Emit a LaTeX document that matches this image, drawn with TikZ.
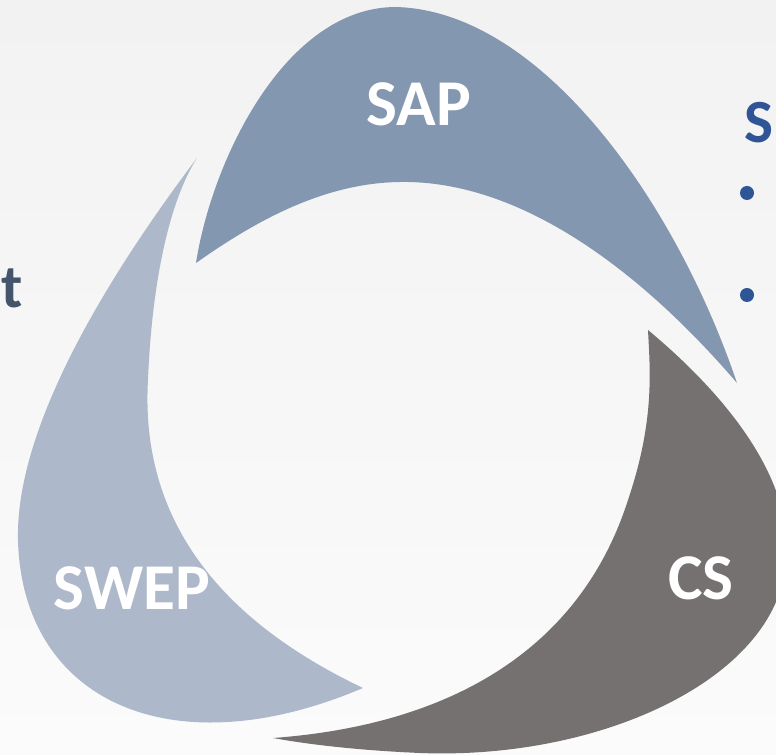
\documentclass[tikz,border=0pt]{standalone}
\usepackage{fontspec}
\setmainfont{Carlito}
\definecolor{sapc}{HTML}{8497B0}
\definecolor{swepc}{HTML}{ADB9CA}
\definecolor{csc}{HTML}{767171}
\definecolor{bluet}{HTML}{2F5597}
\definecolor{darkt}{HTML}{44546A}
\definecolor{bgtop}{HTML}{F2F2F2}
\definecolor{bgbot}{HTML}{FBFBFB}
\tikzset{
  blade label/.style={text=white, font=\fontsize{49}{58}\selectfont\bfseries, anchor=base, inner sep=0pt},
  side text/.style={font=\fontsize{46}{54}\selectfont\bfseries, inner sep=0pt},
  bullet dot/.style={circle, fill=bluet, minimum size=10.5pt, inner sep=0pt}
}
\begin{document}
\begin{tikzpicture}[x=0.75pt, y=-0.75pt]
\useasboundingbox (0,0) rectangle (776,755);
\shade[top color=bgtop, bottom color=bgbot] (0,0) rectangle (776,755);
\begin{scope}
\clip (0,0) rectangle (776,755);
% SAP blade
\fill[sapc] (196,263) .. controls (212,160) and (285,8) .. (395,7)
  .. controls (540,10) and (675,200) .. (737,383)
  .. controls (640,270) and (520,180) .. (400,182)
  .. controls (320,183) and (250,225) .. (196,263) -- cycle;
% SWEP blade
\fill[swepc] (197,158) .. controls (120,260) and (15,420) .. (18,540)
  .. controls (22,700) and (170,770) .. (363,688)
  .. controls (220,620) and (140,520) .. (148,380)
  .. controls (152,280) and (170,200) .. (197,158) -- cycle;
% CS blade
\fill[csc] (648,330) .. controls (720,390) and (800,480) .. (785,570)
  .. controls (770,680) and (600,760) .. (420,753)
  .. controls (350,750) and (300,743) .. (273,738)
  .. controls (450,725) and (580,650) .. (628,500)
  .. controls (655,420) and (650,370) .. (648,330) -- cycle;
\end{scope}
\node[blade label] (sap) at (419,126) {SAP};
\node[blade label] (cs) at (701,600) {CS};
\node[blade label] (swep) at (132,610) {SWEP};
\node[side text, text=bluet, anchor=base west] (s) at (744,143) {S};
\node[bullet dot] (b1) at (747,193) {};
\node[bullet dot] (b2) at (747,295) {};
\node[side text, text=darkt, anchor=base west] (t) at (1,308) {t};
\end{tikzpicture}
\end{document}
